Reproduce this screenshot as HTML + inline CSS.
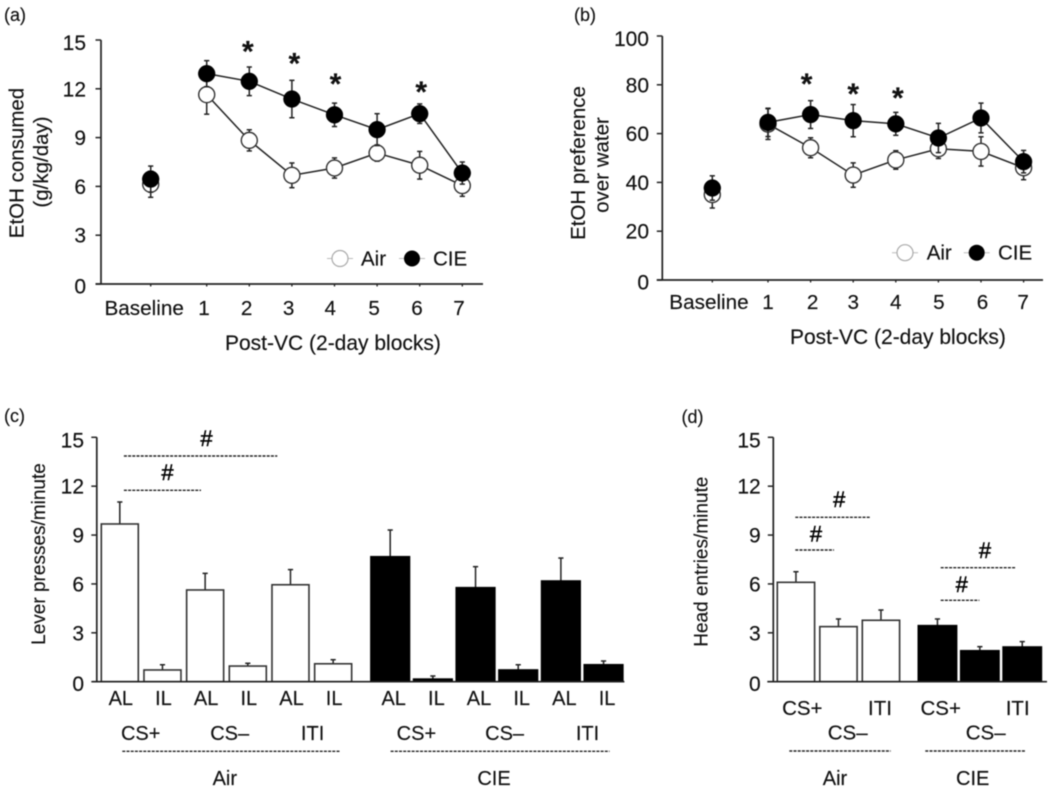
<!DOCTYPE html>
<html lang="en">
<head>
<meta charset="utf-8">
<title>EtOH consumption and seeking panels</title>
<style>
html,body{margin:0;padding:0;background:#fff;width:1050px;height:790px;overflow:hidden}
#fig{display:block;filter:blur(0.45px)}
text{font-family:"Liberation Sans",sans-serif;fill:#111;stroke:#111;stroke-width:0.15px}
</style>
</head>
<body>
<svg id="fig" width="1050" height="790" viewBox="0 0 1050 790" xmlns="http://www.w3.org/2000/svg"></svg>
<script>
// ---------- Data ----------
const lineCategories = ['Baseline', '1', '2', '3', '4', '5', '6', '7'];

const aYTicks = [0, 3, 6, 9, 12, 15];
const aAir = [6.13, 11.64, 8.83, 6.68, 7.13, 8.05, 7.30, 6.05];
const aAirErr = [0.8, 1.2, 0.65, 0.76, 0.62, 0.5, 0.85, 0.66];
const aCie = [6.45, 12.93, 12.46, 11.37, 10.40, 9.49, 10.47, 6.82];
const aCieErr = [0.8, 0.8, 0.88, 1.15, 0.72, 0.98, 0.6, 0.68];
const aStarCategories = ['2', '3', '4', '6'];
const aStarLevels = [14.6, 13.85, 12.6, 12.1];

const bYTicks = [0, 20, 40, 60, 80, 100];
const bAir = [35, 63.9, 54.2, 43, 49.2, 53.8, 52.7, 46];
const bAirErr = [5.5, 6.3, 4.1, 5, 3.8, 4, 6, 4.9];
const bCie = [37.7, 64.6, 67.8, 65.3, 64, 58.2, 66.4, 48.5];
const bCieErr = [5, 5.8, 5.7, 6.6, 4.7, 6, 6.1, 4.6];
const bStarCategories = ['2', '3', '4'];
const bStarLevels = [82.4, 78.3, 76.6];

const barYTicks = [0, 3, 6, 9, 12, 15];

const cAirCategories = ['AL', 'IL', 'AL', 'IL', 'AL', 'IL'];
const cAirValues = [9.68, 0.72, 5.63, 0.96, 5.95, 1.10];
const cAirErr = [1.35, 0.32, 1.02, 0.17, 0.93, 0.25];
const cCieCategories = ['AL', 'IL', 'AL', 'IL', 'AL', 'IL'];
const cCieValues = [7.67, 0.16, 5.77, 0.72, 6.18, 1.04];
const cCieErr = [1.64, 0.19, 1.29, 0.32, 1.41, 0.23];

const dAirCategories = ['CS+', 'CS–', 'ITI'];
const dAirValues = [6.10, 3.38, 3.77];
const dAirErr = [0.65, 0.47, 0.63];
const dCieCategories = ['CS+', 'CS–', 'ITI'];
const dCieValues = [3.44, 1.90, 2.13];
const dCieErr = [0.41, 0.25, 0.33];

// ---------- Helpers ----------
const NS = 'http://www.w3.org/2000/svg';
const root = document.getElementById('fig');
const INK = '#222';

function mk(parent, tag, attrs, name) {
  const el = document.createElementNS(NS, tag);
  for (const k in attrs) el.setAttribute(k, attrs[k]);
  
  
  parent.appendChild(el);
  return el;
}
function txt(parent, str, x, y, size, anchor, name, extra) {
  const el = mk(parent, 'text', Object.assign({x: x, y: y, 'font-size': size, 'text-anchor': anchor}, extra || {}), name);
  el.textContent = str;
  return el;
}
function seg(parent, x1, y1, x2, y2, w, name, color, dash) {
  const attrs = {x1: x1, y1: y1, x2: x2, y2: y2, stroke: color || INK, 'stroke-width': w};
  if (dash) attrs['stroke-dasharray'] = dash;
  return mk(parent, 'line', attrs, name);
}
function group(name) {
  return mk(root, 'g', {}, name);
}
function rotText(parent, str, x, y, size, name) {
  return txt(parent, str, x, y, size, 'middle', name, {transform: 'rotate(-90 ' + x + ' ' + y + ')'});
}
function yAxis(g, ticks, yFn, axisX, axisTop, axisBottom, labelRight) {
  seg(g, axisX, axisTop, axisX, axisBottom, 1.7, 'y-axis-line');
  ticks.forEach(function (t, i) {
    seg(g, axisX - 5.5, yFn(t), axisX, yFn(t), 1.5, 'y-tick-' + t);
    const shift = i === ticks.length - 1 ? 10 : (i === 0 ? 9.5 : 7.5);
    txt(g, String(t), labelRight, yFn(t) + shift, 21, 'end', 'y-tick-label-' + t);
  });
}
function errBar(g, x, yLo, yHi, name) {
  seg(g, x, yLo, x, yHi, 1.5, name);
  seg(g, x - 2.6, yHi, x + 2.6, yHi, 1.5, name + '-cap');
}

// ---------- Line panels ----------
function linePanel(cfg) {
  const g = group(cfg.name);
  const y = function (v) { return cfg.y0 - (v / cfg.yMax) * (cfg.y0 - cfg.yTop); };
  const x = function (i) {
    return i === 0 ? cfg.baselineX : cfg.firstX + (i - 1) * cfg.stepX;
  };
  yAxis(g, cfg.ticks, y, cfg.axisX, cfg.yTop, cfg.y0, cfg.labelRight);
  seg(g, cfg.axisX - 5.5, cfg.y0, cfg.axisEnd, cfg.y0, 1.7, 'x-axis-line');
  lineCategories.forEach(function (c, i) {
    seg(g, x(i), cfg.y0, x(i), cfg.y0 + 2.5, 1.3, 'x-tick-' + c);
    const lx = i === 0 ? cfg.baselineLabelX : x(i) + cfg.labelOffsets[i];
    txt(g, c, lx, cfg.y0 + cfg.catDy, 20.7, i === 0 ? 'start' : 'middle', 'x-tick-label-' + c);
  });
  txt(g, 'Post-VC (2-day blocks)', cfg.xTitleX, cfg.xTitleY, 21, 'start', 'x-axis-title');
  cfg.yTitles.forEach(function (t) {
    rotText(g, t[0], t[1], t[2], 20.5, 'y-axis-title');
  });

  function series(vals, errs, fill, label) {
    const s = mk(g, 'g', {}, 'series-' + label);
    vals.forEach(function (v, i) {
      errBar(s, x(i), y(v - errs[i]), y(v + errs[i]), label + '-error-' + lineCategories[i]);
      seg(s, x(i) - 2.6, y(v - errs[i]), x(i) + 2.6, y(v - errs[i]), 1.5, label + '-error-low-cap-' + lineCategories[i]);
    });
    const pts = vals.slice(1).map(function (v, i) { return x(i + 1) + ',' + y(v); }).join(' ');
    mk(s, 'polyline', {points: pts, fill: 'none', stroke: INK, 'stroke-width': 1.5}, label + '-line');
    vals.forEach(function (v, i) {
      mk(s, 'circle', {cx: x(i), cy: y(v), r: fill === '#000' ? 8.4 : 8, fill: fill, stroke: fill === '#000' ? '#000' : '#333', 'stroke-width': fill === '#000' ? 0.5 : 1.4}, label + '-point-' + lineCategories[i]);
    });
  }
  series(cfg.air, cfg.airErr, '#fff', 'air');
  series(cfg.cie, cfg.cieErr, '#000', 'cie');

  cfg.starCats.forEach(function (c, i) {
    const idx = lineCategories.indexOf(c);
    txt(g, '*', x(idx) + cfg.starDx[i], y(cfg.starLevels[i]) + 15, 30, 'middle', 'significance-star-' + c, {'font-weight': 'bold', fill: '#111'});
  });

  const L = cfg.legend;
  const leg = mk(g, 'g', {}, 'legend');
  seg(leg, L.airX - 13, L.y, L.airX + 13, L.y, 1, 'legend-air-line', '#bbb');
  mk(leg, 'circle', {cx: L.airX, cy: L.y, r: 8, fill: '#fff', stroke: '#aaa', 'stroke-width': 1.2}, 'legend-air-marker');
  txt(leg, 'Air', L.airText, L.y + 7, 20.5, 'start', 'legend-air-label');
  seg(leg, L.cieX - 13, L.y, L.cieX + 13, L.y, 1, 'legend-cie-line', '#bbb');
  mk(leg, 'circle', {cx: L.cieX, cy: L.y, r: 8, fill: '#000'}, 'legend-cie-marker');
  txt(leg, 'CIE', L.cieText, L.y + 7, 20.5, 'start', 'legend-cie-label');
}

linePanel({
  name: 'panel-a', y0: 284, yTop: 40, yMax: 15, ticks: aYTicks, axisX: 101, axisEnd: 483, labelRight: 86,
  baselineX: 150.7, firstX: 206.7, stepX: 42.6, air: aAir, airErr: aAirErr, cie: aCie, cieErr: aCieErr,
  baselineLabelX: 104.5, labelOffsets: [0, -2.7, -2.7, -3.3, -4.3, -3, -2.7, -3.3], catDy: 31,
  xTitleX: 225, xTitleY: 350,
  yTitles: [['EtOH consumed', 23.5, 163], ['(g/kg/day)', 48, 162]],
  starCats: aStarCategories, starLevels: aStarLevels, starDx: [-1.5, 2.5, 1, 1.5],
  legend: {airX: 340, cieX: 412, y: 258.5, airText: 361, cieText: 433}
});
linePanel({
  name: 'panel-b', y0: 280, yTop: 36, yMax: 100, ticks: bYTicks, axisX: 662.3, axisEnd: 1043, labelRight: 649,
  baselineX: 712.3, firstX: 768, stepX: 42.6, air: bAir, airErr: bAirErr, cie: bCie, cieErr: bCieErr,
  baselineLabelX: 669.3, labelOffsets: [0, 0, 2, 0, 0, 0.5, 1.5, -0.5], catDy: 29,
  xTitleX: 790, xTitleY: 344,
  yTitles: [['EtOH preference', 585, 163], ['over water', 608.5, 165]],
  starCats: bStarCategories, starLevels: bStarLevels, starDx: [-4, 0, 2],
  legend: {airX: 905, cieX: 976.7, y: 252.7, airText: 926.7, cieText: 998}
});

// ---------- Bar panels ----------
const barY = function (v) { return 681.7 - (v / 15) * 244.4; };

function bars(g, cats, vals, errs, startX, stepX, width, fill, label) {
  const s = mk(g, 'g', {}, 'bars-' + label);
  vals.forEach(function (v, i) {
    const left = startX + i * stepX;
    const cx = left + width / 2;
    errBar(s, cx, barY(v), barY(v + errs[i]), label + '-error-' + (i + 1));
    mk(s, 'rect', {x: left, y: barY(v), width: width, height: barY(0) - barY(v), fill: fill, stroke: fill === '#000' ? '#000' : '#333', 'stroke-width': 1.6}, label + '-bar-' + cats[i] + '-' + (i + 1));
  });
}
function dashes(g, x1, x2, y, name) {
  seg(g, x1, y, x2, y, 1.4, name, '#222', '3 1.2');
}
function hash(g, cx, cy, name) {
  txt(g, '#', cx, cy + 8, 22, 'middle', name, {style: 'stroke-width:0.45px;fill:#000;stroke:#000'});
}

// Panel c
(function () {
  const g = group('panel-c');
  yAxis(g, barYTicks, barY, 96.8, barY(15), barY(0), 84);
  bars(g, cAirCategories, cAirValues, cAirErr, 101.3, 42.67, 37, '#fff', 'air');
  bars(g, cCieCategories, cCieValues, cCieErr, 370.9, 42.67, 38.6, '#000', 'cie');
  seg(g, 92.3, barY(0), 624.4, barY(0), 1.7, 'x-axis-line');
  cAirCategories.forEach(function (c, i) {
    txt(g, c, 101.3 + i * 42.67 + 18.5 + 1, 705, 20, 'middle', 'x-tick-label-air-' + c + '-' + (i + 1));
  });
  cCieCategories.forEach(function (c, i) {
    txt(g, c, 370.9 + i * 42.67 + 19.3 + 3.5, 705, 20, 'middle', 'x-tick-label-cie-' + c + '-' + (i + 1));
  });
  txt(g, 'CS+', 140.7, 740, 20, 'middle', 'group-label-air-cs-plus');
  txt(g, 'CS–', 229.7, 740, 20, 'middle', 'group-label-air-cs-minus');
  txt(g, 'ITI', 312.6, 740, 20, 'middle', 'group-label-air-iti');
  txt(g, 'CS+', 416.4, 740, 20, 'middle', 'group-label-cie-cs-plus');
  txt(g, 'CS–', 504.6, 740, 20, 'middle', 'group-label-cie-cs-minus');
  txt(g, 'ITI', 587.5, 740, 20, 'middle', 'group-label-cie-iti');
  dashes(g, 122.3, 340.5, 751.3, 'group-divider-air');
  dashes(g, 390.6, 609.6, 751.3, 'group-divider-cie');
  txt(g, 'Air', 224.8, 785, 20, 'middle', 'group-title-air');
  txt(g, 'CIE', 494, 785, 20, 'middle', 'group-title-cie');
  dashes(g, 123.9, 277.3, 456, 'significance-line-upper');
  dashes(g, 123.9, 201, 490.3, 'significance-line-lower');
  hash(g, 206.5, 438, 'significance-hash-upper');
  hash(g, 167.5, 472, 'significance-hash-lower');
  rotText(g, 'Lever presses/minute', 45, 554, 19, 'y-axis-title');
})();

// Panel d
(function () {
  const g = group('panel-d');
  yAxis(g, barYTicks, barY, 773.3, barY(15), barY(0), 760.7);
  bars(g, dAirCategories, dAirValues, dAirErr, 777.3, 42.5, 37.3, '#fff', 'air');
  bars(g, dCieCategories, dCieValues, dCieErr, 918.3, 42.4, 38.3, '#000', 'cie');
  seg(g, 767.3, barY(0), 1047, barY(0), 1.7, 'x-axis-line');
  [[dAirCategories[0], 802.3, 715], [dAirCategories[1], 847.7, 739.3], [dAirCategories[2], 880, 715]].forEach(function (t, i) {
    txt(g, t[0], t[1], t[2], 20.5, 'middle', 'x-tick-label-air-' + (i + 1));
  });
  [[dCieCategories[0], 940.7, 715], [dCieCategories[1], 985.7, 739.3], [dCieCategories[2], 1017.7, 715]].forEach(function (t, i) {
    txt(g, t[0], t[1], t[2], 20.5, 'middle', 'x-tick-label-cie-' + (i + 1));
  });
  dashes(g, 789.3, 890.7, 751, 'group-divider-air');
  dashes(g, 925.3, 1026, 751, 'group-divider-cie');
  txt(g, 'Air', 835, 785, 20, 'middle', 'group-title-air');
  txt(g, 'CIE', 972.7, 785, 20, 'middle', 'group-title-cie');
  dashes(g, 795.3, 870.7, 517.3, 'significance-line-air-upper');
  dashes(g, 795.3, 834, 550, 'significance-line-air-lower');
  dashes(g, 940.7, 1016, 567.7, 'significance-line-cie-upper');
  dashes(g, 940.7, 979.3, 600.3, 'significance-line-cie-lower');
  hash(g, 839.3, 499, 'significance-hash-air-upper');
  hash(g, 816, 533.3, 'significance-hash-air-lower');
  hash(g, 985, 550, 'significance-hash-cie-upper');
  hash(g, 961.7, 584, 'significance-hash-cie-lower');
  rotText(g, 'Head entries/minute', 707.3, 561.7, 19, 'y-axis-title');
})();

// Panel letters
txt(root, '(a)', 4, 21, 18, 'start', 'panel-label-a');
txt(root, '(b)', 574, 21, 18, 'start', 'panel-label-b');
txt(root, '(c)', 4, 422, 18, 'start', 'panel-label-c');
txt(root, '(d)', 681.5, 423, 18, 'start', 'panel-label-d');
</script>
</body>
</html>
